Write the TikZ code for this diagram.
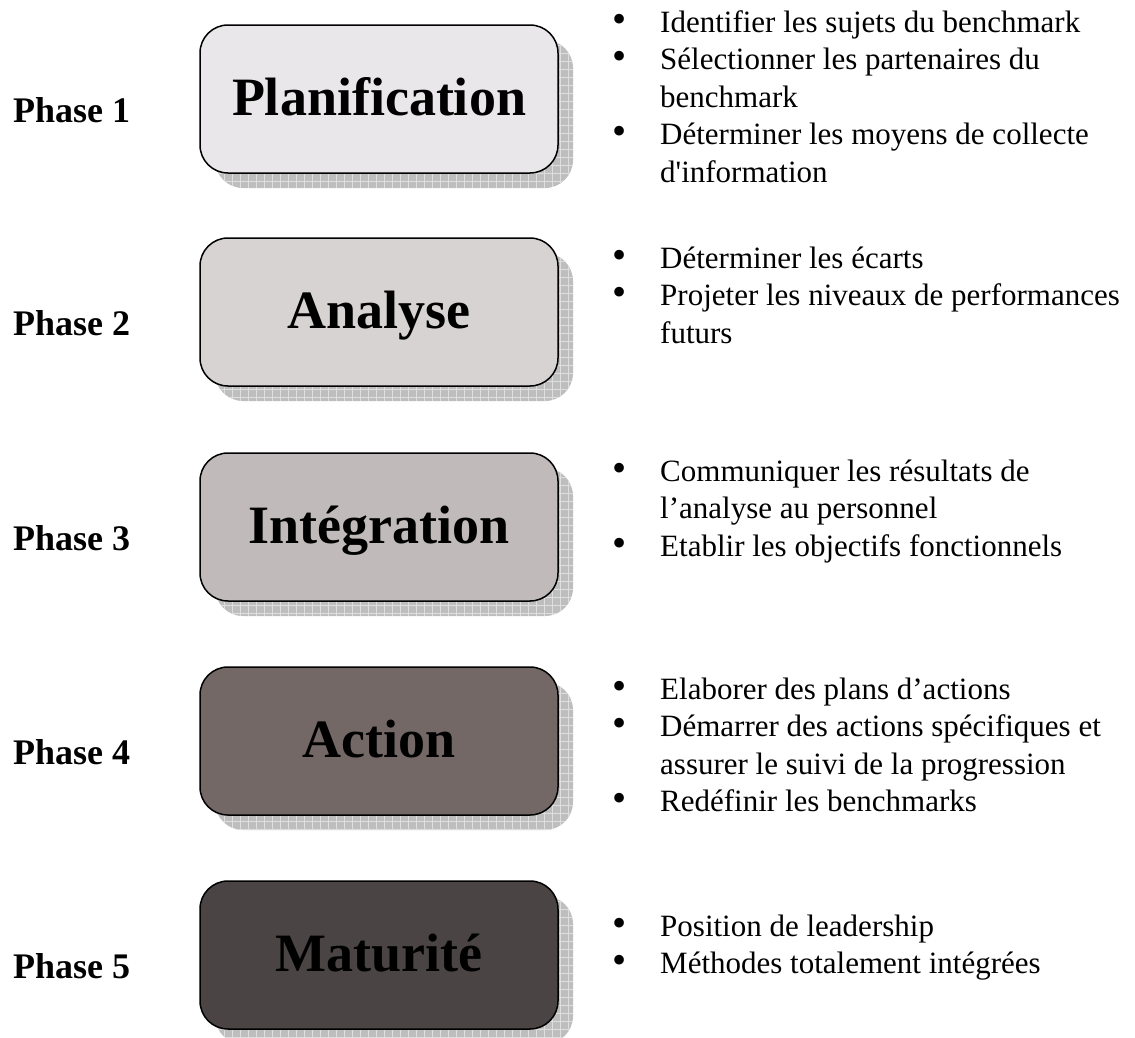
\documentclass[tikz,border=0pt]{standalone}
\usepackage{fontspec}
\setmainfont{Liberation Serif}
\usetikzlibrary{patterns.meta}
\definecolor{boxa}{RGB}{233,231,233}
\definecolor{boxb}{RGB}{215,211,211}
\definecolor{boxc}{RGB}{193,186,186}
\definecolor{boxd}{RGB}{115,104,102}
\definecolor{boxe}{RGB}{74,68,68}
\definecolor{shadowgray}{RGB}{190,190,190}
\definecolor{gridgray}{RGB}{222,222,222}
\newcommand{\blt}{\scalebox{1.3}{\textbullet}}
\begin{document}
\begin{tikzpicture}[x=1pt,y=-1pt,
  phasebox/.style={draw,line width=1.5pt,rounded corners=28pt,
    minimum width=358pt,minimum height=148pt,inner sep=0pt,
    text height=37pt,text depth=5pt,
    font=\fontsize{54}{60}\selectfont\bfseries,
    preaction={fill=shadowgray,transform canvas={xshift=15pt,yshift=-15pt}},
    preaction={pattern={Hatch[angle=0,distance=8pt,line width=0.6pt]},
      pattern color=gridgray,transform canvas={xshift=15pt,yshift=-15pt}}},
  phaselabel/.style={anchor=base west,inner sep=0pt,
    font=\fontsize{36}{40}\selectfont\bfseries},
  steplist/.style={anchor=base west,inner sep=0pt,
    font=\fontsize{31}{37.6}\selectfont}]

  \useasboundingbox (0,0) rectangle (1135,1037);

  % boxes in the middle
  \node[phasebox,fill=boxa] (plan) at (379,99) {Planification};
  \node[phasebox,fill=boxb] (anal) at (379,312) {Analyse};
  \node[phasebox,fill=boxc] (integ) at (379,527) {Intégration};
  \node[phasebox,fill=boxd] (act) at (379,741) {Action};
  \node[phasebox,fill=boxe] (matur) at (379,955) {Maturité};

  % phase numbers on the left
  \node[phaselabel] (ph1) at (13,122) {Phase 1};
  \node[phaselabel] (ph2) at (13,335) {Phase 2};
  \node[phaselabel] (ph3) at (13,550) {Phase 3};
  \node[phaselabel] (ph4) at (13,764) {Phase 4};
  \node[phaselabel] (ph5) at (13,978) {Phase 5};

  % lists on the right
  \node[steplist] (list1) at (612,32) {\begin{tabular}[t]{@{}p{48pt}@{}l@{}}
    \blt & Identifier les sujets du benchmark\\
    \blt & Sélectionner les partenaires du\\
     & benchmark\\
    \blt & Déterminer les moyens de collecte\\
     & d\textquotesingle information
  \end{tabular}};
  \node[steplist] (list2) at (612,268) {\begin{tabular}[t]{@{}p{48pt}@{}l@{}}
    \blt & Déterminer les écarts\\
    \blt & Projeter les niveaux de performances\\
     & futurs
  \end{tabular}};
  \node[steplist] (list3) at (612,481) {\begin{tabular}[t]{@{}p{48pt}@{}l@{}}
    \blt & Communiquer les résultats de\\
     & l’analyse au personnel\\
    \blt & Etablir les objectifs fonctionnels
  \end{tabular}};
  \node[steplist] (list4) at (612,699) {\begin{tabular}[t]{@{}p{48pt}@{}l@{}}
    \blt & Elaborer des plans d’actions\\
    \blt & Démarrer des actions spécifiques et\\
     & assurer le suivi de la progression\\
    \blt & Redéfinir les benchmarks
  \end{tabular}};
  \node[steplist] (list5) at (612,936) {\begin{tabular}[t]{@{}p{48pt}@{}l@{}}
    \blt & Position de leadership\\
    \blt & Méthodes totalement intégrées
  \end{tabular}};

\end{tikzpicture}
\end{document}
